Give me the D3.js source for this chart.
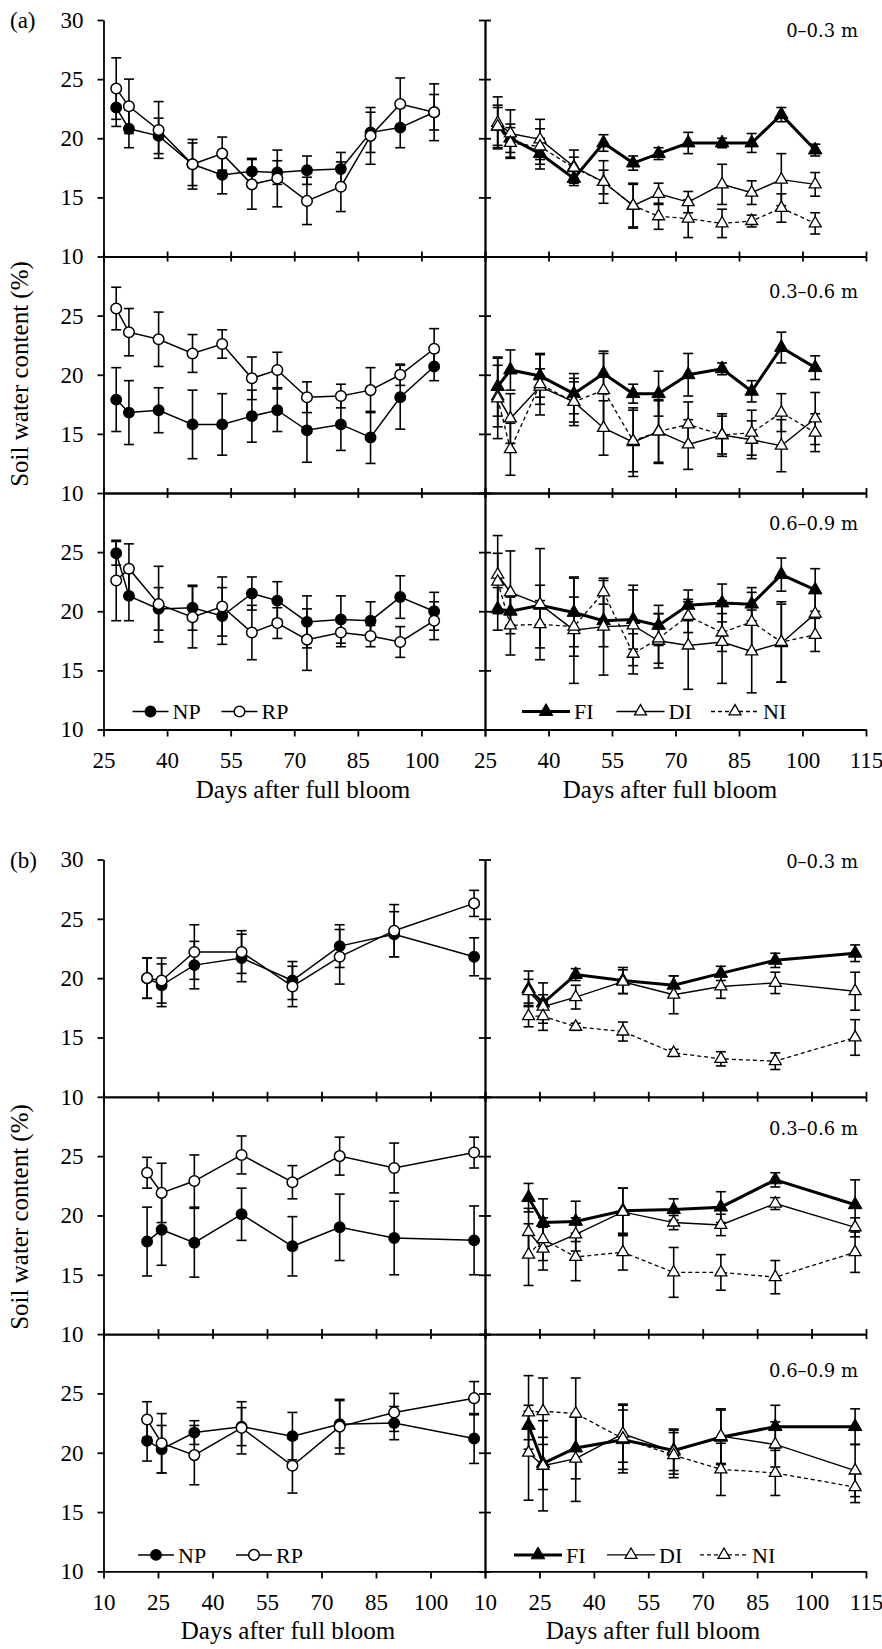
<!DOCTYPE html>
<html lang="en">
<head>
<meta charset="UTF-8">
<title>Soil water content</title>
<script src="https://cdn.jsdelivr.net/npm/d3@7"></script>
<style>
  body { margin: 0; background: #fff; }
  svg { display: block; font-family: "Liberation Serif", serif; }
</style>
</head>
<body>
<script>
// ---- data ----
const daysA = [28, 31, 38, 46, 53, 60, 66, 73, 81, 88, 95, 103];
const daysB = [22, 26, 35, 48, 62, 75, 90, 112];
const xTicksA = [25, 40, 55, 70, 85, 100, 115];
const xTicksB = [10, 25, 40, 55, 70, 85, 100, 115];
const yTicks = [10, 15, 20, 25, 30];
const depths = ["0\u20130.3 m", "0.3\u20130.6 m", "0.6\u20130.9 m"];

// (a) rows: 0-0.3, 0.3-0.6, 0.6-0.9 m
const npA = [
  [22.6, 20.8, 20.2, 17.8, 16.9, 17.2, 17.1, 17.3, 17.4, 20.5, 20.9, 22.2],
  [17.9, 16.8, 17.0, 15.8, 15.8, 16.5, 17.0, 15.3, 15.8, 14.7, 18.1, 20.7],
  [24.9, 21.3, 20.2, 20.3, 19.6, 21.5, 20.9, 19.1, 19.3, 19.2, 21.2, 20.0]
];
const npErrA = [
  [1.6, 1.6, 1.5, 1.8, 1.6, 1.1, 1.0, 1.2, 1.4, 1.7, 1.7, 1.5],
  [2.7, 2.7, 1.9, 2.9, 2.6, 2.2, 1.8, 2.7, 2.2, 2.2, 2.7, 1.2],
  [1.0, 2.1, 1.8, 1.9, 2.4, 1.4, 1.6, 2.2, 2.0, 1.6, 1.8, 1.6]
];
const rpA = [
  [24.2, 22.7, 20.7, 17.8, 18.7, 16.1, 16.6, 14.7, 15.9, 20.2, 22.9, 22.2],
  [25.6, 23.6, 23.0, 21.8, 22.6, 19.7, 20.4, 18.1, 18.2, 18.7, 20.0, 22.2],
  [22.6, 23.6, 20.6, 19.5, 20.4, 18.2, 19.0, 17.6, 18.2, 17.9, 17.4, 19.2]
];
const rpErrA = [
  [2.6, 2.3, 2.4, 2.1, 1.4, 2.1, 2.4, 2.0, 2.1, 2.4, 2.2, 2.4],
  [1.8, 2.0, 2.3, 1.6, 1.2, 1.8, 1.5, 1.3, 1.0, 1.9, 0.9, 1.7],
  [3.4, 2.1, 3.2, 2.6, 2.5, 2.3, 1.3, 2.6, 1.2, 0.9, 1.3, 1.6]
];
const fiA = [
  [21.0, 20.0, 18.7, 16.6, 19.6, 17.9, 18.7, 19.6, 19.6, 19.6, 22.0, 19.0],
  [19.0, 20.4, 19.9, 18.4, 20.1, 18.4, 18.4, 20.0, 20.5, 18.6, 22.3, 20.6],
  [20.2, 20.0, 20.5, 19.9, 19.2, 19.3, 18.8, 20.5, 20.7, 20.6, 23.1, 21.8]
];
const fiErrA = [
  [1.8, 1.2, 1.3, 0.6, 0.7, 0.6, 0.5, 0.9, 0.4, 0.8, 0.6, 0.5],
  [2.5, 1.7, 1.8, 1.7, 1.7, 0.8, 1.9, 1.8, 0.5, 0.9, 1.3, 1.0],
  [1.8, 1.2, 1.7, 2.9, 2.2, 2.5, 1.7, 1.3, 1.6, 1.4, 1.4, 1.8]
];
const diA = [
  [21.3, 20.4, 19.9, 17.6, 16.3, 14.3, 15.3, 14.6, 16.1, 15.4, 16.5, 16.1],
  [18.2, 16.3, 19.0, 17.7, 15.5, 14.3, 15.2, 14.1, 14.9, 14.5, 14.0, 16.3],
  [23.1, 21.6, 20.6, 18.4, 18.7, 18.8, 17.5, 17.1, 17.4, 16.6, 17.3, 19.8]
];
const diErrA = [
  [2.2, 2.0, 1.7, 1.4, 1.8, 1.8, 0.9, 0.9, 1.7, 1.0, 2.2, 1.0],
  [2.6, 2.1, 1.5, 1.7, 2.3, 2.9, 2.6, 2.1, 1.8, 1.6, 2.2, 2.2],
  [3.3, 3.5, 4.7, 4.5, 4.1, 3.4, 2.3, 3.7, 3.5, 3.5, 3.3, 1.9]
];
const niA = [
  [21.0, 19.6, 19.3, 17.5, 16.3, 14.3, 13.4, 13.2, 12.8, 13.0, 14.1, 12.8],
  [18.0, 13.7, 19.2, 17.7, 18.7, 14.4, 15.2, 15.8, 14.9, 15.1, 16.8, 15.1],
  [22.5, 18.8, 18.9, 18.7, 21.6, 16.4, 17.7, 19.6, 18.2, 19.1, 17.4, 18.0]
];
const niErrA = [
  [1.6, 1.3, 1.5, 0.9, 1.0, 1.9, 1.1, 1.6, 1.2, 0.5, 1.2, 0.9],
  [3.4, 2.2, 2.6, 2.0, 3.3, 2.6, 2.7, 1.9, 1.6, 1.9, 1.6, 1.6],
  [2.4, 2.5, 2.0, 2.5, 1.0, 1.7, 2.1, 1.4, 1.6, 2.5, 3.4, 1.4]
];

// (b)
const npB = [
  [20.0, 19.4, 21.1, 21.7, 19.8, 22.7, 23.7, 21.8],
  [17.8, 18.8, 17.7, 20.1, 17.4, 19.0, 18.1, 17.9],
  [21.0, 20.3, 21.7, 22.2, 21.4, 22.4, 22.5, 21.2]
];
const npErrB = [
  [1.7, 1.8, 2.0, 2.0, 1.6, 1.8, 1.9, 1.6],
  [2.9, 3.0, 2.9, 2.2, 2.5, 2.8, 3.1, 2.9],
  [1.7, 2.0, 1.0, 1.6, 2.0, 2.0, 1.4, 2.1]
];
const rpB = [
  [20.0, 19.8, 22.2, 22.2, 19.3, 21.8, 24.0, 26.3],
  [23.6, 21.9, 22.9, 25.1, 22.8, 25.0, 24.0, 25.3],
  [22.8, 20.8, 19.8, 22.1, 18.9, 22.2, 23.4, 24.6]
];
const rpErrB = [
  [1.7, 1.9, 2.3, 1.8, 1.7, 2.3, 2.2, 1.1],
  [1.3, 2.5, 2.2, 1.6, 1.4, 1.6, 2.1, 1.3],
  [1.5, 2.5, 2.5, 2.2, 2.3, 2.3, 1.6, 1.4]
];
const fiB = [
  [19.1, 17.9, 20.3, 19.8, 19.4, 20.4, 21.5, 22.1],
  [21.5, 19.4, 19.5, 20.4, 20.5, 20.7, 23.0, 20.9],
  [22.3, 19.1, 20.4, 21.1, 20.2, 21.3, 22.2, 22.2]
];
const fiErrB = [
  [1.5, 1.7, 0.5, 1.1, 0.8, 0.6, 0.6, 0.7],
  [1.2, 2.0, 1.7, 1.9, 0.9, 1.3, 0.6, 2.1],
  [1.2, 2.2, 2.6, 2.5, 1.7, 2.3, 1.8, 1.5]
];
const diB = [
  [18.9, 17.6, 18.4, 19.7, 18.6, 19.3, 19.6, 18.9],
  [18.6, 17.2, 18.4, 20.3, 19.4, 19.2, 21.0, 19.0],
  [20.0, 18.9, 19.5, 21.6, 20.1, 21.4, 20.7, 18.5]
];
const diErrB = [
  [1.0, 1.0, 1.0, 1.0, 1.6, 1.0, 0.9, 1.6],
  [2.0, 1.8, 1.4, 2.0, 0.6, 0.9, 0.5, 0.8],
  [4.0, 3.8, 3.6, 2.4, 1.9, 2.3, 1.9, 2.2]
];
const niB = [
  [16.8, 16.8, 15.9, 15.5, 13.7, 13.2, 13.0, 15.0],
  [16.7, 18.0, 16.5, 16.9, 15.2, 15.2, 14.8, 16.9],
  [23.4, 23.5, 23.3, 21.2, 19.8, 18.6, 18.3, 17.1]
];
const niErrB = [
  [0.9, 1.2, 0.3, 0.8, 0.3, 0.6, 0.7, 1.5],
  [2.6, 1.8, 2.0, 1.5, 2.1, 1.5, 1.4, 1.7],
  [3.1, 2.8, 3.0, 2.9, 1.9, 2.2, 1.9, 1.3]
];

// ---- layout ----
const width = 882, height = 1649;
const X0 = 103.5, XM = 485, X1 = 866;
const font = "Liberation Serif, Times New Roman, serif";

const styles = {
  NP: { shape: "circle", fill: "#000", lw: 1.5, dash: null },
  RP: { shape: "circle", fill: "#fff", lw: 1.5, dash: null },
  FI: { shape: "tri", fill: "#000", lw: 3, dash: null },
  DI: { shape: "tri", fill: "#fff", lw: 1.4, dash: null },
  NI: { shape: "tri", fill: "#fff", lw: 1.3, dash: "4,3" }
};

const figs = [
  {
    tag: "(a)", top: 20, rowH: 236.5, days: daysA, domain: [25, 115], ticks: xTicksA,
    tagY: 28, yTitleY: 374, titleX: [303, 670], depthDy: [17, 41, 37],
    left: [["NP", npA, npErrA], ["RP", rpA, rpErrA]],
    right: [["FI", fiA, fiErrA], ["DI", diA, diErrA], ["NI", niA, niErrA]],
    legL: { x: 29, step: 89, len: 36 }, legR: { x: 37, step: 94.5, len: 48 }, legDy: 18
  },
  {
    tag: "(b)", top: 859.5, rowH: 237.3, days: daysB, domain: [10, 115], ticks: xTicksB,
    tagY: 868, yTitleY: 1217, titleX: [288, 653], depthDy: [8, 38, 43],
    left: [["NP", npB, npErrB], ["RP", rpB, rpErrB]],
    right: [["FI", fiB, fiErrB], ["DI", diB, diErrB], ["NI", niB, niErrB]],
    legL: { x: 34.5, step: 98, len: 36 }, legR: { x: 29, step: 93, len: 48 }, legDy: 16.5
  }
];

const svg = d3.select("body").append("svg")
  .attr("width", width).attr("height", height)
  .attr("viewBox", `0 0 ${width} ${height}`);
svg.append("rect").attr("width", width).attr("height", height).attr("fill", "#fff");

const drawMarker = (g, name, x, y) => {
  const s = styles[name];
  if (s.shape === "circle") {
    g.append("circle").attr("cx", x).attr("cy", y)
      .attr("r", s.fill === "#000" ? 5.2 : 5.3)
      .attr("fill", s.fill).attr("stroke", "#000").attr("stroke-width", 1.5);
  } else {
    g.append("path")
      .attr("d", d3.symbol(d3.symbolTriangle, s.fill === "#000" ? 80 : 62)())
      .attr("transform", `translate(${x},${y})`)
      .attr("fill", s.fill).attr("stroke", "#000")
      .attr("stroke-width", s.fill === "#000" ? 1 : 1.3)
      .attr("stroke-linejoin", "miter");
  }
};

const styleAxis = (sel, lw) => {
  sel.selectAll("path, line").attr("stroke", "#000").attr("stroke-width", lw);
  sel.selectAll("text").attr("font-family", font).attr("font-size", 23).attr("fill", "#000");
};

figs.forEach(f => {
  const g = svg.append("g");
  const xL = d3.scaleLinear().domain(f.domain).range([X0, XM]);
  const xR = d3.scaleLinear().domain(f.domain).range([XM, X1]);
  const bottom = f.top + 3 * f.rowH;

  for (let r = 0; r < 3; r++) {
    const y = d3.scaleLinear().domain([10, 30]).range([f.top + (r + 1) * f.rowH, f.top + r * f.rowH]);
    const yb = f.top + (r + 1) * f.rowH;
    const last = r === 2;

    // left y axis
    g.append("g").attr("transform", `translate(${X0},0)`)
      .call(d3.axisLeft(y).tickValues(r === 0 ? yTicks : yTicks.slice(0, 4))
        .tickSize(6).tickSizeOuter(0).tickPadding(14))
      .call(s => styleAxis(s, 1.8));

    // middle y axis, ticks crossing
    g.append("g").attr("transform", `translate(${XM},0)`)
      .call(d3.axisLeft(y).tickValues(yTicks).tickSize(6).tickSizeOuter(0).tickFormat(""))
      .call(s => styleAxis(s, 1.8));
    g.append("g").attr("transform", `translate(${XM},0)`)
      .call(d3.axisRight(y).tickValues(yTicks).tickSize(6).tickSizeOuter(0).tickFormat(""))
      .call(s => styleAxis(s, 1.8));

    // x axes
    [[xL, true], [xR, false]].forEach(([x, isLeft]) => {
      const fmt = d => (last && !(isLeft && d === f.domain[1])) ? d : "";
      g.append("g").attr("transform", `translate(0,${yb})`)
        .call(d3.axisBottom(x).tickValues(f.ticks).tickSize(last ? 7 : 5).tickSizeOuter(0)
          .tickPadding(15).tickFormat(fmt))
        .call(s => styleAxis(s, 1.8));
      if (!last) {
        g.append("g").attr("transform", `translate(0,${yb})`)
          .call(d3.axisTop(x).tickValues(f.ticks).tickSize(5).tickSizeOuter(0).tickFormat(""))
          .call(s => styleAxis(s, 1.8));
      }
    });

    // depth label
    g.append("text").attr("x", 858).attr("y", f.top + r * f.rowH + f.depthDy[r])
      .attr("text-anchor", "end").attr("font-family", "DejaVu Serif, serif")
      .attr("font-size", 18).text(depths[r]);

    // series
    [[f.left, xL], [f.right, xR]].forEach(([group, x]) => {
      const pg = g.append("g");
      const line = d3.line().x(d => x(d[0])).y(d => y(d[1]));
      group.forEach(([name, means, errs]) => {
        const pts = f.days.map((d, i) => [d, means[r][i], errs[r][i]]);
        const eg = pg.append("g").attr("stroke", "#000").attr("stroke-width", 1.6);
        pts.forEach(p => {
          const px = x(p[0]), y0 = y(p[1] - p[2]), y1 = y(p[1] + p[2]);
          eg.append("line").attr("x1", px).attr("x2", px).attr("y1", y0).attr("y2", y1);
          eg.append("line").attr("x1", px - 5).attr("x2", px + 5).attr("y1", y0).attr("y2", y0);
          eg.append("line").attr("x1", px - 5).attr("x2", px + 5).attr("y1", y1).attr("y2", y1);
        });
      });
      group.forEach(([name, means, errs]) => {
        const s = styles[name];
        const pts = f.days.map((d, i) => [d, means[r][i]]);
        pg.append("path").attr("d", line(pts)).attr("fill", "none")
          .attr("stroke", "#000").attr("stroke-width", s.lw)
          .attr("stroke-dasharray", s.dash);
      });
      group.forEach(([name, means]) => {
        f.days.forEach((d, i) => drawMarker(pg, name, x(d), y(means[r][i])));
      });
    });
  }

  // legends
  const legY = bottom - f.legDy;
  [[f.left, X0, f.legL], [f.right, XM, f.legR]].forEach(([group, x0, L]) => {
    group.forEach(([name], k) => {
      const s = styles[name];
      const lx = x0 + L.x + k * L.step;
      g.append("line").attr("x1", lx).attr("x2", lx + L.len).attr("y1", legY).attr("y2", legY)
        .attr("stroke", "#000").attr("stroke-width", s.lw).attr("stroke-dasharray", s.dash);
      drawMarker(g, name, lx + L.len / 2, legY);
      g.append("text").attr("x", lx + L.len + 4).attr("y", legY).attr("dy", "0.35em")
        .attr("font-family", font).attr("font-size", 22).text(name);
    });
  });

  // titles
  f.titleX.forEach(tx => {
    g.append("text").attr("x", tx).attr("y", bottom + 68).attr("text-anchor", "middle")
      .attr("font-family", font).attr("font-size", 25).text("Days after full bloom");
  });
  g.append("text").attr("transform", `translate(28,${f.yTitleY}) rotate(-90)`)
    .attr("text-anchor", "middle").attr("font-family", font).attr("font-size", 25)
    .text("Soil water content (%)");
  g.append("text").attr("x", 10).attr("y", f.tagY)
    .attr("font-family", font).attr("font-size", 23).text(f.tag);
});
</script>
</body>
</html>
